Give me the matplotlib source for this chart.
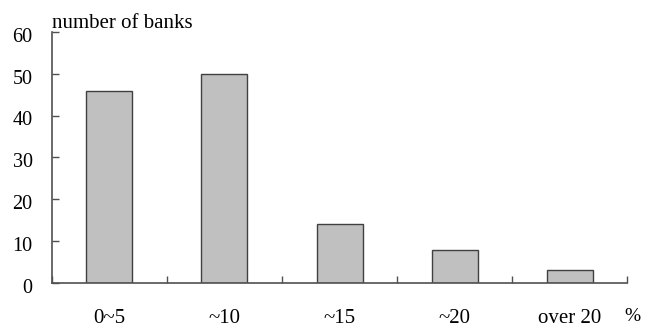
import numpy as np
import matplotlib.pyplot as plt
from matplotlib.transforms import ScaledTranslation

categories = ["0~5", "~10", "~15", "~20", "over 20"]
banks = [46, 50, 14, 8, 3]
y_ticks = [0, 10, 20, 30, 40, 50, 60]

plt.rcParams['font.family'] = ['Liberation Serif', 'DejaVu Serif']

fig = plt.figure(figsize=(6.64, 3.27), dpi=100)
ax = fig.add_axes([0.0783, 0.1346, 0.8660, 0.7675])

x = np.arange(len(categories))
ax.bar(x, banks, width=0.4, color="#c0c0c0", edgecolor="#404040", linewidth=1.0)

ax.set_xlim(-0.5, len(categories) - 0.5)
ax.set_ylim(0, 60)
ax.set_yticks(y_ticks)
ax.tick_params(axis="y", direction="in", length=5, width=1, colors="#505050",
               labelsize=14.5, labelcolor="black", pad=14)
# numbers sit a little below their ticks
shift = ScaledTranslation(0, -2 / 72, fig.dpi_scale_trans)
for lab in ax.get_yticklabels():
    lab.set_transform(lab.get_transform() + shift)

# boundary ticks on x axis, labels at category centres
ax.set_xticks(np.arange(len(categories) + 1) - 0.5)
ax.set_xticklabels([])
ax.set_xticks(x, minor=True)
ax.set_xticklabels(categories, minor=True)
ax.tick_params(axis="x", which="major", direction="in", length=5, width=1, colors="#505050")
ax.tick_params(axis="x", which="minor", length=0, labelsize=15, pad=19)

for s in ["top", "right"]:
    ax.spines[s].set_visible(False)
for s in ["left", "bottom"]:
    ax.spines[s].set_color("#505050")
    ax.spines[s].set_linewidth(1.2)

fig.text(0.078, 0.914, "number of banks", fontsize=15, ha="left", va="baseline")
fig.text(0.953, 0.018, "%", fontsize=14, ha="center", va="baseline")

fig.savefig("out.png", dpi=100)
